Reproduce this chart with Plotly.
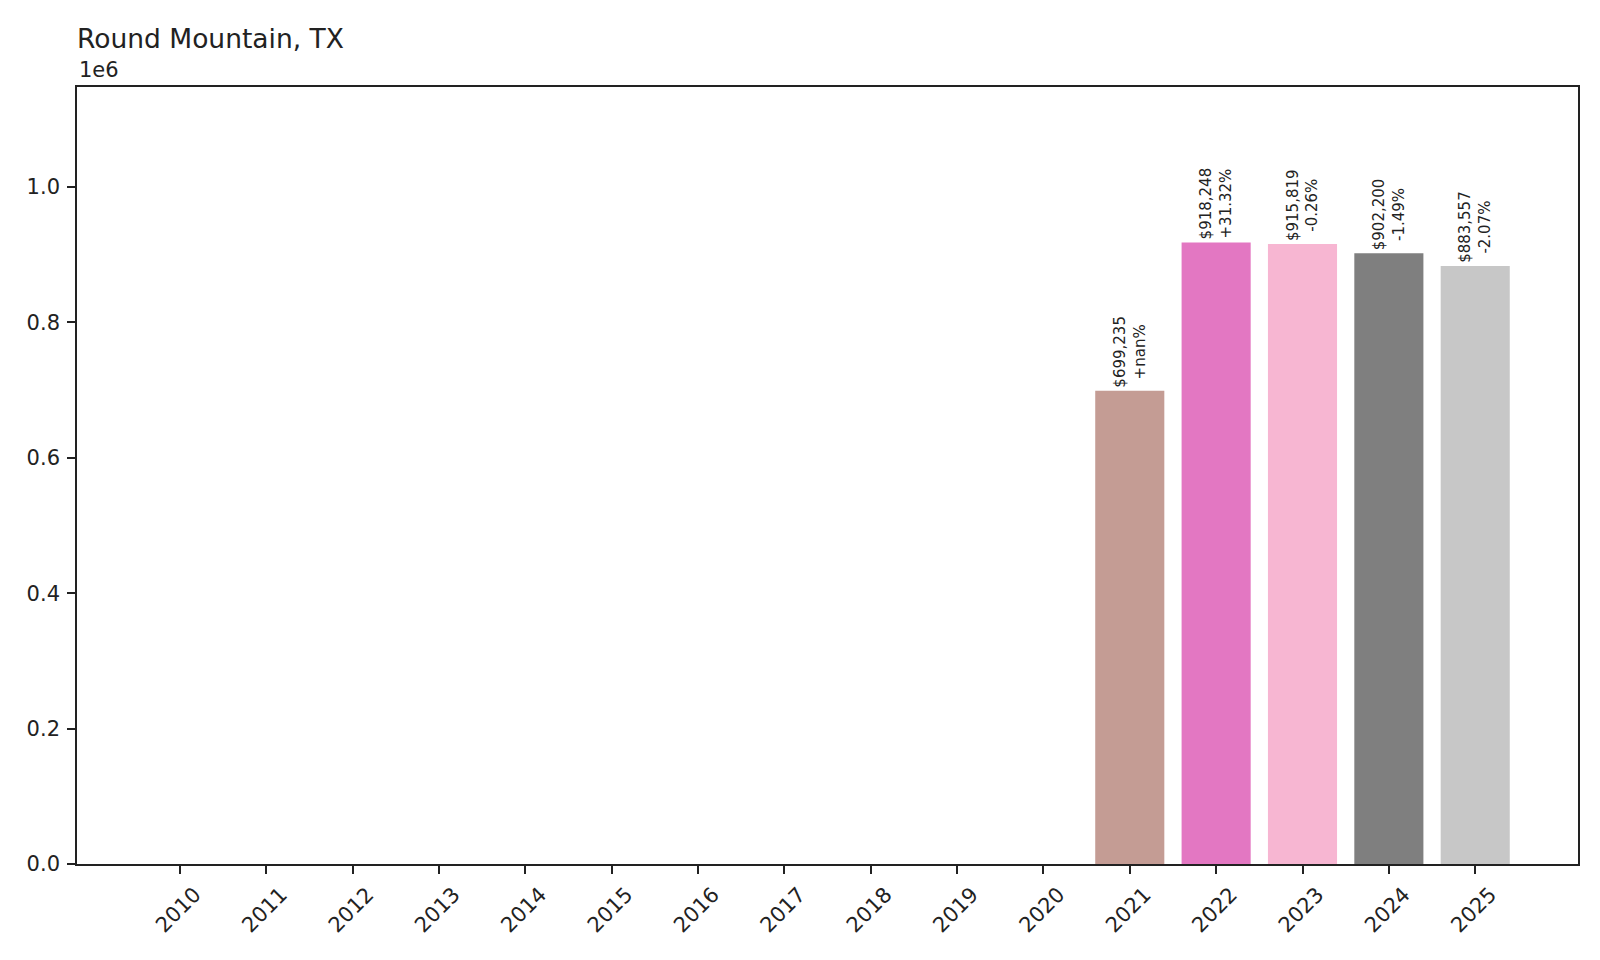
import math
import plotly.graph_objects as go

years = list(range(2010, 2026))
values = [None, None, None, None, None, None, None, None, None, None, None,
          699235, 918248, 915819, 902200, 883557]
tab20 = ["#1f77b4", "#aec7e8", "#ff7f0e", "#ffbb78", "#2ca02c", "#98df8a",
         "#d62728", "#ff9896", "#9467bd", "#c5b0d5", "#8c564b", "#c49c94",
         "#e377c2", "#f7b6d2", "#7f7f7f", "#c7c7c7"]
ytick_vals = [0, 200000, 400000, 600000, 800000, 1000000]
ytick_text = ["0.0", "0.2", "0.4", "0.6", "0.8", "1.0"]
title_text = "Round Mountain, TX"

labels = []
prev = float("nan")
for v in values:
    if v is None:
        labels.append("")
        prev = float("nan")
        continue
    pct = (v / prev - 1) * 100 if not math.isnan(prev) else float("nan")
    labels.append(f"${v:,.0f}<br>{pct:+.2f}%")
    prev = v

FONT = "DejaVu Sans"
fig = go.Figure(go.Bar(
    x=years, y=values, width=0.8,
    marker=dict(color=tab20[:len(years)], line=dict(width=0)),
    text=labels, textposition="outside", textangle=-90,
    textfont=dict(family=FONT, size=15, color="#222"),
    constraintext="none", cliponaxis=False,
    hoverinfo="skip",
))

ymax = max(v for v in values if v is not None) * 1.25
fig.update_layout(
    width=1600, height=960,
    margin=dict(l=69, r=30, t=79, b=104),
    paper_bgcolor="white", plot_bgcolor="white",
    showlegend=False,
    font=dict(family=FONT, size=21, color="#222"),
    title=dict(text=title_text, x=69/1600, xanchor="left", xref="container",
               y=1 - 40/960, yanchor="bottom", yref="container",
               font=dict(family=FONT, size=26.5, color="#222")),
    xaxis=dict(range=[2008.81, 2026.19], tickvals=years,
               ticktext=[str(y) for y in years], tickangle=-45,
               ticklabelshift=15,
               ticks="outside", ticklen=8, tickwidth=1.6, tickcolor="#222",
               showline=True, linewidth=1.6, linecolor="#222", mirror=True,
               showgrid=False, zeroline=False,
               tickfont=dict(family=FONT, size=21, color="#222")),
    yaxis=dict(range=[0, ymax], tickvals=ytick_vals, ticktext=ytick_text,
               ticks="outside", ticklen=8, tickwidth=1.6, tickcolor="#222",
               ticklabelstandoff=3,
               showline=True, linewidth=1.6, linecolor="#222", mirror=True,
               showgrid=False, zeroline=False,
               tickfont=dict(family=FONT, size=21, color="#222")),
    annotations=[dict(text="1e6", xref="paper", yref="paper", x=0, y=1,
                      xanchor="left", yanchor="bottom", showarrow=False,
                      yshift=3, font=dict(family=FONT, size=21, color="#222"))],
)

fig.write_html("out.html")
